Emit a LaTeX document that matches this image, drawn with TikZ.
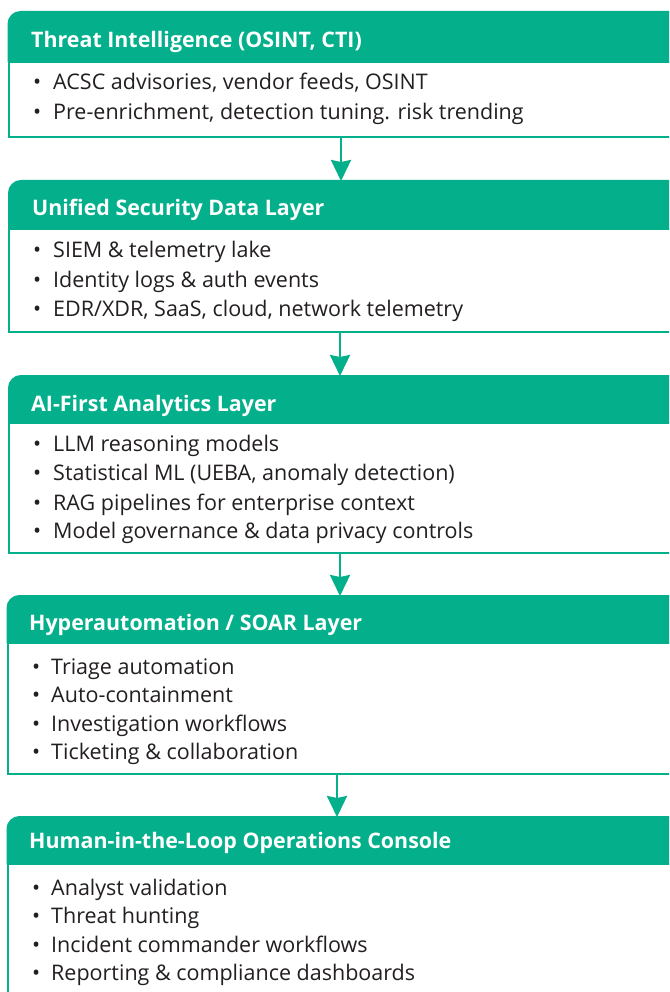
\documentclass[tikz,border=0pt]{standalone}
\usepackage{fontspec}
\setmainfont{Open Sans}
\usetikzlibrary{arrows.meta}
\definecolor{tgreen}{HTML}{04AF8B}
\definecolor{tink}{HTML}{231F20}
\tikzset{
  hdrtext/.style={anchor=base west, inner sep=0pt, text=white, font=\fontsize{21.4}{24}\selectfont\bfseries},
  bodytext/.style={anchor=base west, inner sep=0pt, text=tink, font=\fontsize{21.5}{24}\selectfont},
  bul/.style={anchor=base west, inner sep=0pt, text=tink, font=\fontsize{21.5}{24}\selectfont},
  boxline/.style={draw=tgreen, line width=2pt},
  hdrfill/.style={fill=tgreen},
  flowarrow/.style={draw=tgreen, line width=2.6pt, -{Stealth[length=21pt,width=20pt,inset=2pt]}},
}
\newcommand{\layerbox}[4]{%
  % #1 left, #2 top, #3 header bottom, #4 bottom
  \fill[hdrfill] (#1,#3) -- (#1,#2+12) .. controls (#1,#2+5.4) and (#1+5.4,#2) .. (#1+12,#2) -- (690,#2) -- (690,#3) -- cycle;
  \draw[boxline] (690,#3) -- (#1,#3) -- (#1,#4) -- (690,#4);
  \draw[boxline] (#1,#3) -- (#1,#2+12) .. controls (#1,#2+5.4) and (#1+5.4,#2) .. (#1+12,#2) -- (690,#2);
}
\begin{document}
\begin{tikzpicture}[x=1pt,y=-1pt]
\path[use as bounding box] (0,0) rectangle (669,992);
\clip (0,0) rectangle (669,992);
\fill[white] (0,0) rectangle (669,992);

% Box 1
\layerbox{8.5}{12}{62}{137}
\node[hdrtext] (h1) at (31,48) {Threat Intelligence (OSINT, CTI)};
\node[bul] (b1a) at (33,90) {•};
\node[bodytext] (t1a) at (53,90) {ACSC advisories, vendor feeds, OSINT};
\node[bul] (b1b) at (33,120) {•};
\node[bodytext] (t1b) at (53,120) {Pre-enrichment, detection tuning. risk trending};
\coordinate (s1) at (341,137);

% Box 2
\layerbox{9}{181}{229}{332}
\coordinate (n2) at (341,181);
\node[hdrtext] (h2) at (32,216) {Unified Security Data Layer};
\node[bul] (b2a) at (33,258) {•};
\node[bodytext] (t2a) at (53,258) {SIEM \& telemetry lake};
\node[bul] (b2b) at (33,287) {•};
\node[bodytext] (t2b) at (53,287) {Identity logs \& auth events};
\node[bul] (b2c) at (33,316) {•};
\node[bodytext] (t2c) at (53,316) {EDR/XDR, SaaS, cloud, network telemetry};
\coordinate (s2) at (340,332);

% Box 3
\layerbox{9}{376}{423}{553}
\coordinate (n3) at (340,376);
\node[hdrtext] (h3) at (31,411) {AI-First Analytics Layer};
\node[bul] (b3a) at (33,451) {•};
\node[bodytext] (t3a) at (53,451) {LLM reasoning models};
\node[bul] (b3b) at (33,480) {•};
\node[bodytext] (t3b) at (53,480) {Statistical ML (UEBA, anomaly detection)};
\node[bul] (b3c) at (33,510) {•};
\node[bodytext] (t3c) at (53,510) {RAG pipelines for enterprise context};
\node[bul] (b3d) at (33,538) {•};
\node[bodytext] (t3d) at (53,538) {Model governance \& data privacy controls};
\coordinate (s3) at (340,553);

% Box 4
\layerbox{7.5}{596}{643}{774}
\coordinate (n4) at (340,596);
\node[hdrtext] (h4) at (29,630) {Hyperautomation / SOAR Layer};
\node[bul] (b4a) at (32,674) {•};
\node[bodytext] (t4a) at (51,674) {Triage automation};
\node[bul] (b4b) at (32,702) {•};
\node[bodytext] (t4b) at (51,702) {Auto-containment};
\node[bul] (b4c) at (32,731) {•};
\node[bodytext] (t4c) at (51,731) {Investigation workflows};
\node[bul] (b4d) at (32,759) {•};
\node[bodytext] (t4d) at (51,759) {Ticketing \& collaboration};
\coordinate (s4) at (337,774);

% Box 5
\layerbox{7.5}{817}{864}{1010}
\coordinate (n5) at (337,817);
\node[hdrtext] (h5) at (29,848) {Human-in-the-Loop Operations Console};
\node[bul] (b5a) at (32,895) {•};
\node[bodytext] (t5a) at (51,895) {Analyst validation};
\node[bul] (b5b) at (32,923) {•};
\node[bodytext] (t5b) at (51,923) {Threat hunting};
\node[bul] (b5c) at (32,952) {•};
\node[bodytext] (t5c) at (51,952) {Incident commander workflows};
\node[bul] (b5d) at (32,980) {•};
\node[bodytext] (t5d) at (51,980) {Reporting \& compliance dashboards};

% Arrows
\draw[flowarrow] (s1) -- (n2);
\draw[flowarrow] (s2) -- (n3);
\draw[flowarrow] (s3) -- (n4);
\draw[flowarrow] (s4) -- (n5);
\end{tikzpicture}
\end{document}
